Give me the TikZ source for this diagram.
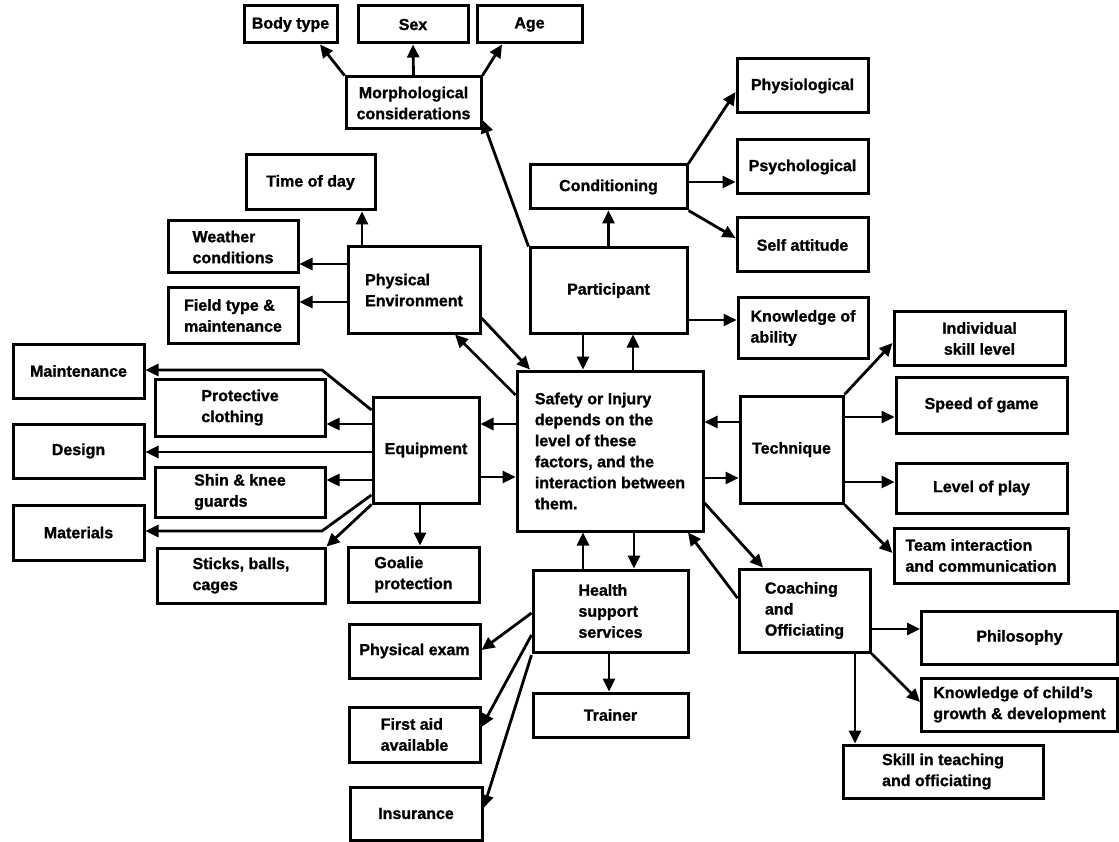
\documentclass[tikz,border=0pt]{standalone}
\usepackage{fontspec}
\setmainfont{Liberation Sans}[BoldFeatures={FakeBold=1.2}]
\usetikzlibrary{arrows.meta}
\begin{document}
\begin{tikzpicture}[x=1pt,y=-1pt,
  box/.style={draw, line width=3pt, inner sep=0pt, align=left,
    font=\fontsize{16}{21}\selectfont\bfseries},
  arr/.style={line width=2.8pt, -{Triangle[length=13pt,width=12pt]}},
]
\fill[white] (0,0) rectangle (1119,842);
\useasboundingbox (0,0) rectangle (1119,842);

% top: morphological
\node[box,minimum width=93,minimum height=37] (body) at (290.5,24.5) {Body type};
\node[box,minimum width=110,minimum height=37] (sex) at (413,24.5) {Sex};
\node[box,minimum width=105,minimum height=37] (age) at (529.5,24.5) {Age};
\node[box,align=center,minimum width=135,minimum height=52] (morph) at (413.5,103) {Morphological\\considerations};

% conditioning
\node[box,minimum width=157,minimum height=44] (cond) at (608.5,187) {Conditioning};
\node[box,minimum width=131,minimum height=54] (physio) at (802.5,86) {Physiological};
\node[box,minimum width=131,minimum height=54] (psych) at (802.5,167) {Psychological};
\node[box,minimum width=131,minimum height=54] (selfatt) at (802.5,245) {Self attitude};
\node[box,minimum width=157,minimum height=85] (part) at (608.5,290.5) {Participant};
\node[box,minimum width=130,minimum height=60] (koa) at (803,328) {Knowledge of\\ability};

% centre
\node[box,minimum width=186,minimum height=160] (safety) at (610,451)
  {Safety or Injury\\depends on the\\level of these\\factors, and the\\interaction between\\them.};

% physical environment
\node[box,minimum width=129,minimum height=55] (tod) at (310.5,182.5) {Time of day};
\node[box,minimum width=130,minimum height=52] (weather) at (233,247) {Weather\\conditions};
\node[box,minimum width=130,minimum height=55] (field) at (233,315.5) {Field type \&\\maintenance};
\node[box,minimum width=132,minimum height=86] (pe) at (414,290) {Physical\\Environment};

% equipment
\node[box,minimum width=106,minimum height=106] (eq) at (426,450) {Equipment};
\node[box,minimum width=131,minimum height=55] (goalie) at (413.5,574.5) {Goalie\\protection};
\node[box,minimum width=168,minimum height=55] (sticks) at (241,575.5) {Sticks, balls,\\cages};
\node[box,minimum width=131,minimum height=54] (maint) at (78.5,371) {Maintenance};
\node[box,minimum width=170,minimum height=57] (prot) at (240,407.5) {Protective\\clothing};
\node[box,minimum width=131,minimum height=54] (design) at (78.5,451) {Design};
\node[box,minimum width=170,minimum height=50] (shin) at (240,492) {Shin \& knee\\guards};
\node[box,minimum width=131,minimum height=55] (mat) at (78.5,532.5) {Materials};

% technique
\node[box,minimum width=103,minimum height=107] (tech) at (791.5,449.5) {Technique};
\node[box,align=center,minimum width=171,minimum height=53] (indiv) at (979.5,338.5) {Individual\\skill level};
\node[box,minimum width=171,minimum height=56] (speed) at (981.5,405) {Speed of game};
\node[box,minimum width=171,minimum height=50] (level) at (981.5,488) {Level of play};
\node[box,minimum width=174,minimum height=55] (team) at (981,555.5) {Team interaction\\and communication};

% coaching
\node[box,minimum width=131,minimum height=83] (coach) at (804.5,610.5) {Coaching\\and\\Officiating};
\node[box,minimum width=196,minimum height=53] (philo) at (1019.5,637.5) {Philosophy};
\node[box,minimum width=196,minimum height=53] (kcg) at (1019.5,704.5) {Knowledge of child's\\growth \& development};
\node[box,minimum width=200,minimum height=53] (skill) at (943,771.5) {Skill in teaching\\and officiating};

% health
\node[box,minimum width=155,minimum height=82] (health) at (610.5,611) {Health\\support\\services};
\node[box,minimum width=155,minimum height=44] (trainer) at (610.5,715) {Trainer};
\node[box,minimum width=131,minimum height=54] (pexam) at (414.5,651) {Physical exam};
\node[box,minimum width=131,minimum height=55] (faid) at (414.5,734.5) {First aid\\available};
\node[box,minimum width=132,minimum height=53] (ins) at (416,813.5) {Insurance};

% ---- connectors ----
\draw[arr] (morph.north west) -- (body.south -| 320,0);
\draw[arr] (morph.north) -- (sex.south);
\draw[arr] (morph.north east) -- (age.south -| 502,0);
\draw[arr] (part.north west) -- (morph.east |- 0,120);

\draw[arr] (part.north) -- (cond.south);
\draw[arr] (cond.north east) -- (physio.west |- 0,92);
\draw[arr] (cond.east |- 0,182) -- (psych.west |- 0,182);
\draw[arr] (cond.south east) -- (selfatt.west |- 0,238);
\draw[arr] (part.east |- 0,320) -- (koa.west |- 0,320);
\draw[arr] (part.south -| 583,0) -- (safety.north -| 583,0);
\draw[arr] (safety.north -| 633,0) -- (part.south -| 633,0);

\draw[arr] (pe.north -| 362,0) -- (tod.south -| 362,0);
\draw[arr] (pe.west |- 0,264) -- (weather.east |- 0,264);
\draw[arr] (pe.west |- 0,302) -- (field.east |- 0,302);
\draw[arr] (safety.west |- 0,395) -- (pe.south -| 455,0);
\draw[arr] (pe.east |- 0,318) -- (safety.north -| 530,0);

\draw[arr] (safety.west |- 0,424) -- (eq.east |- 0,424);
\draw[arr] (eq.east |- 0,477) -- (safety.west |- 0,477);
\draw[arr] (eq.south -| 420,0) -- (goalie.north -| 420,0);
\draw[arr] (eq.west |- 0,410) -- (322,370) -- (maint.east |- 0,370);
\draw[arr] (eq.west |- 0,424) -- (prot.east |- 0,424);
\draw[arr] (eq.west |- 0,452) -- (design.east |- 0,452);
\draw[arr] (eq.west |- 0,480) -- (shin.east |- 0,480);
\draw[arr] (eq.west |- 0,495) -- (322,531) -- (mat.east |- 0,531);
\draw[arr] (eq.south west) -- (sticks.north east);

\draw[arr] (tech.west |- 0,422) -- (safety.east |- 0,422);
\draw[arr] (safety.east |- 0,478) -- (tech.west |- 0,478);
\draw[arr] (tech.north east) -- (indiv.west |- 0,343);
\draw[arr] (tech.east |- 0,417) -- (speed.west |- 0,417);
\draw[arr] (tech.east |- 0,482) -- (level.west |- 0,482);
\draw[arr] (tech.south east) -- (team.west |- 0,553);

\draw[arr] (safety.east |- 0,503) -- (coach.north -| 763,0);
\draw[arr] (coach.west |- 0,598) -- (safety.south -| 688,0);
\draw[arr] (coach.east |- 0,629) -- (philo.west |- 0,629);
\draw[arr] (coach.south east) -- (kcg.west |- 0,702);
\draw[arr] (coach.south -| 855,0) -- (skill.north -| 855,0);

\draw[arr] (health.north -| 583,0) -- (safety.south -| 583,0);
\draw[arr] (safety.south -| 634,0) -- (health.north -| 634,0);
\draw[arr] (health.south -| 609,0) -- (trainer.north -| 609,0);
\draw[arr] (health.west |- 0,613) -- (pexam.east |- 0,650);
\draw[arr] (health.west |- 0,635) -- (faid.east |- 0,727);
\draw[arr] (health.west |- 0,655) -- (ins.east |- 0,808);
\end{tikzpicture}
\end{document}
